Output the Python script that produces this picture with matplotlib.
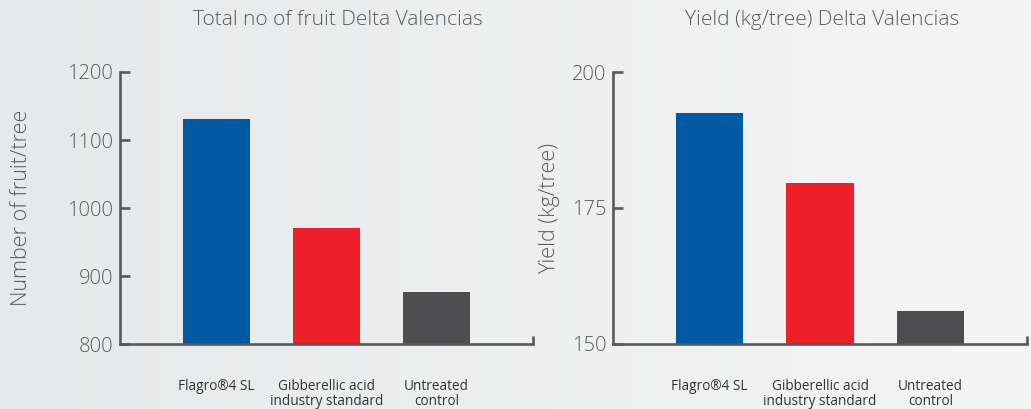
import numpy as np
import matplotlib
matplotlib.use("Agg")
import matplotlib.pyplot as plt
from matplotlib.colors import LinearSegmentedColormap

categories = ["Flagro®4 SL", "Gibberellic acid\nindustry standard", "Untreated\ncontrol"]
fruit_counts = [1131, 971, 876]
yield_kg = [192.5, 179.6, 156.1]
colors = ["#005aa3", "#ec1f2a", "#4d4d4f"]
fruit_ticks = [800, 900, 1000, 1100, 1200]
yield_ticks = [150, 175, 200]

plt.rcParams['font.family'] = ['Open Sans', 'DejaVu Sans']
TXT = "#5a5b5d"
AX = "#58595b"

fig = plt.figure(figsize=(10.31, 4.09), dpi=100)
bg = fig.add_axes([0, 0, 1, 1], zorder=-10)
grad = np.linspace(0, 1, 256).reshape(1, -1)
cmap = LinearSegmentedColormap.from_list("bg", ["#e7e8e9", "#f5f5f5"])
bg.imshow(grad, aspect='auto', cmap=cmap, extent=[0, 1, 0, 1])
bg.axis('off')

def panel(rect, values, ticks, ylabel, title, title_x):
    ax = fig.add_axes(rect)
    ax.patch.set_alpha(0)
    x = np.arange(len(values))
    ax.bar(x, np.array(values) - ticks[0], bottom=ticks[0], width=0.61, color=colors)
    ax.set_xlim(-0.877, 2.877)
    ax.set_ylim(ticks[0], ticks[-1])
    for s in ['top', 'right']:
        ax.spines[s].set_visible(False)
    for s in ['left', 'bottom']:
        ax.spines[s].set_color(AX)
        ax.spines[s].set_linewidth(1.9)
    ax.set_yticks(ticks)
    ax.set_yticklabels([str(t) for t in ticks])
    ax.tick_params(axis='y', direction='in', length=7, width=1.9, color=AX,
                   labelsize=14.5, labelcolor=TXT, pad=5)
    ax.set_xticks(x)
    ax.set_xticklabels(categories)
    ax.tick_params(axis='x', which='major', length=0, pad=25, labelsize=9.8, labelcolor="#333333")
    ax.set_xticks([2.877], minor=True)
    ax.tick_params(axis='x', which='minor', direction='in', length=6, width=1.9, color=AX)
    for lab in ax.get_yticklabels():
        lab.set_fontweight(300)
    for lab in ax.get_xticklabels():
        lab.set_linespacing(1.05)
    ax.set_ylabel(ylabel, fontsize=15.5, color=TXT, fontweight=300)
    fig.text(title_x, 1 - 20 / 409, title, ha='center', va='center', fontsize=15,
             color=TXT, fontweight=300)
    return ax

ax1 = panel([120 / 1031, 1 - 344 / 409, 413 / 1031, 272 / 409], fruit_counts, fruit_ticks,
            "Number of fruit/tree", "Total no of fruit Delta Valencias", 338 / 1031)
ax2 = panel([613 / 1031, 1 - 344 / 409, 414 / 1031, 272 / 409], yield_kg, yield_ticks,
            "Yield (kg/tree)", "Yield (kg/tree) Delta Valencias", 822 / 1031)
ax1.yaxis.set_label_coords(-(120 - 32) / 413, 0.5)
ax2.yaxis.set_label_coords(-(613 - 560) / 414, 0.5)

fig.savefig("out.png", dpi=100)
